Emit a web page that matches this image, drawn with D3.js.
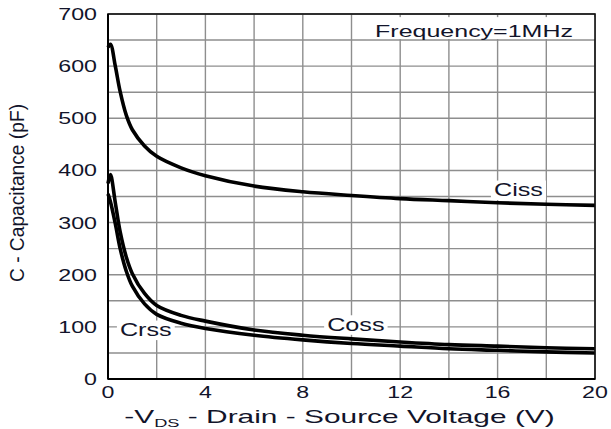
<!DOCTYPE html>
<html>
<head>
<meta charset="utf-8">
<script src="https://cdn.jsdelivr.net/npm/d3@7"></script>
<style>
  html, body { margin: 0; padding: 0; background: #fff; }
  svg { display: block; }
  text { font-family: "Liberation Sans", Arial, sans-serif; fill: #12142a; }
</style>
</head>
<body>
<svg id="chart" width="611" height="429"></svg>
<script>
// Capacitance vs. drain-source voltage, f = 1 MHz
const voltage = [0, 0.1, 0.3, 0.5, 0.75, 1, 1.5, 2, 3, 4, 6, 8, 10, 12, 14, 16, 18, 20];
const ciss = [636, 642, 600, 551, 506, 478, 447, 427, 405, 390, 370, 359, 352, 346, 342, 338, 335, 333];
const coss = [375, 392, 338, 282, 234, 202, 164, 141, 122, 111, 94, 84, 77, 71, 66, 63, 60, 58];
const crss = [355, 340, 298, 250, 207, 178, 144, 124, 107, 97, 84, 75, 68, 63, 58, 55, 52, 50];

const xTicks = [0, 4, 8, 12, 16, 20];
const yTicks = [0, 100, 200, 300, 400, 500, 600, 700];
const xGrid = d3.range(0, 21, 2);
const yGrid = d3.range(0, 701, 50);

const seriesNames = ["Ciss", "Coss", "Crss"];
const seriesValues = [ciss, coss, crss];
// label anchor points (V, pF): left edge and baseline of each curve label
const labelAt = [[15.85, 351], [9.0, 92.6], [0.49, 82.5]];

const svg = d3.select("#chart");
const x = d3.scaleLinear().domain([0, 20]).range([108, 595]);
const y = d3.scaleLinear().domain([0, 700]).range([379, 14]);

const TX = 1.45;   // horizontal stretch of the lettering

// grid
const grid = svg.append("g");
grid.selectAll("line.v").data(xGrid).join("line")
  .attr("x1", d => x(d)).attr("x2", d => x(d))
  .attr("y1", y(0)).attr("y2", y(700))
  .attr("stroke", "#8e8e8e").attr("stroke-width", 1.4);
grid.selectAll("line.h").data(yGrid).join("line")
  .attr("x1", x(0)).attr("x2", x(20))
  .attr("y1", d => y(d)).attr("y2", d => y(d))
  .attr("stroke", "#8e8e8e").attr("stroke-width", 1.4);

// white panel behind the frequency note
svg.append("rect")
  .attr("x", x(10.6)).attr("y", y(694))
  .attr("width", x(20) - x(10.6)).attr("height", y(652) - y(694))
  .attr("fill", "#fff");

// stretched text helper
function label(parent, px, py, str, size, sx, anchor) {
  return parent.append("text")
    .attr("transform", `translate(${px},${py}) scale(${sx},1)`)
    .attr("text-anchor", anchor)
    .attr("font-size", size)
    .text(str);
}

// curve labels on white boxes
seriesNames.forEach((name, i) => {
  const g = svg.append("g");
  const px = x(labelAt[i][0]), py = y(labelAt[i][1]);
  const t = label(g, px, py, name, 18, 1.4, "start");
  const bb = t.node().getBBox();
  g.insert("rect", "text")
    .attr("x", px - 3).attr("y", py + bb.y + 1)
    .attr("width", bb.width * 1.4 + 6).attr("height", bb.height - 1)
    .attr("fill", "#fff");
});

// curves
const line = d3.line()
  .x((d, i) => x(voltage[i]))
  .y(d => y(d))
  .curve(d3.curveCatmullRom.alpha(0.5));

svg.append("g").selectAll("path").data(seriesValues).join("path")
  .attr("d", d => line(d))
  .attr("fill", "none")
  .attr("stroke", "#000")
  .attr("stroke-width", 3.6)
  .attr("stroke-linejoin", "round")
  .attr("stroke-linecap", "butt");

// frame
svg.append("rect")
  .attr("x", x(0)).attr("y", y(700))
  .attr("width", x(20) - x(0)).attr("height", y(0) - y(700))
  .attr("fill", "none").attr("stroke", "#111").attr("stroke-width", 1.6);
svg.append("line")
  .attr("x1", x(0)).attr("x2", x(0)).attr("y1", y(0)).attr("y2", y(700))
  .attr("stroke", "#000").attr("stroke-width", 2);
svg.append("line")
  .attr("x1", x(0)).attr("x2", x(20)).attr("y1", y(0)).attr("y2", y(0))
  .attr("stroke", "#000").attr("stroke-width", 2);

// frequency note
label(svg, 474, 36.5, "Frequency=1MHz", 17, 1.47, "middle");

// tick labels
yTicks.forEach(v => label(svg, 97, y(v) + 6, String(v), 16, TX, "end"));
xTicks.forEach(v => label(svg, x(v), 398, String(v), 16, TX, "middle"));

// axis titles
const xt = svg.append("text")
  .attr("transform", `translate(${(128 + 551) / 2},423) scale(1.66,1)`)
  .attr("text-anchor", "middle")
  .attr("font-size", 18);
xt.append("tspan").text("-V");
xt.append("tspan").attr("font-size", 11).attr("dy", 4).text("DS");
xt.append("tspan").attr("dy", -4).text(" - Drain - Source Voltage (V)");

svg.append("text")
  .attr("transform", "translate(24,193) rotate(-90) scale(1.2,1.3)")
  .attr("text-anchor", "middle")
  .attr("font-size", 16)
  .text("C - Capacitance (pF)");
</script>
</body>
</html>
